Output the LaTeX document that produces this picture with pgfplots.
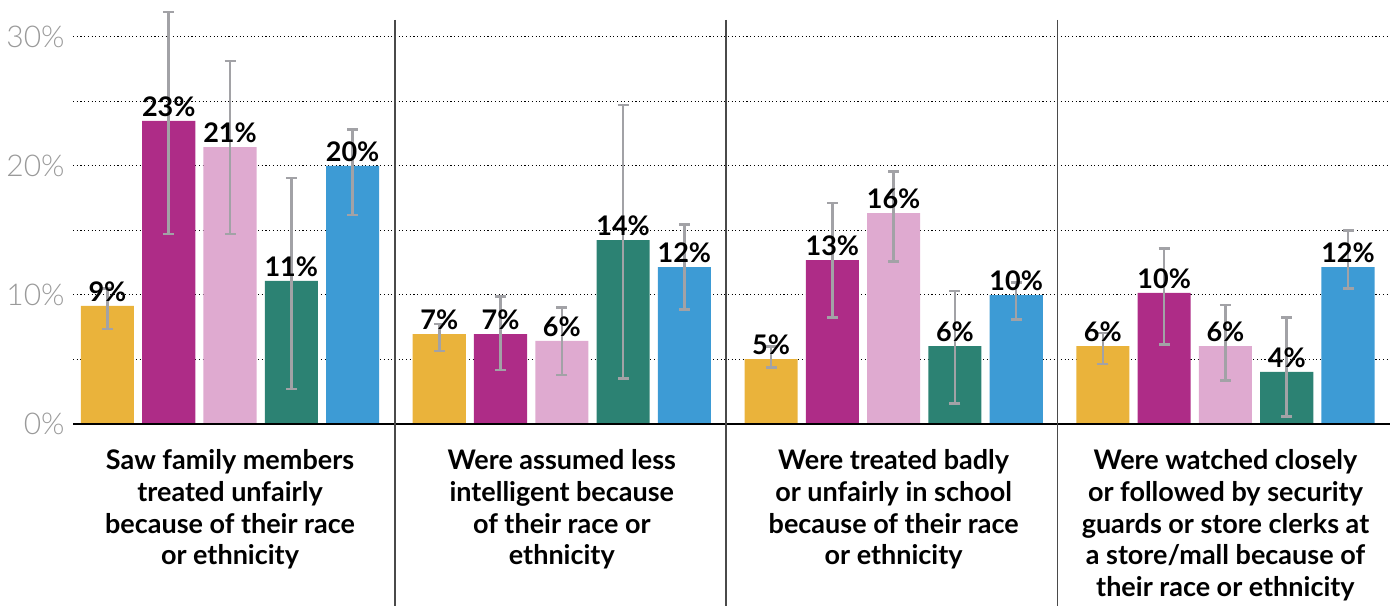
\documentclass[border=0pt]{standalone}
\usepackage{fontspec}
\usepackage{pgfplots}
\usepackage{pgfplotstable}
\pgfplotsset{compat=1.18}
\setmainfont{Lato}
\newfontfamily\lightfont{Lato Light}

\definecolor{cYellow}{HTML}{EAB33B}
\definecolor{cMagenta}{HTML}{AE2C87}
\definecolor{cPink}{HTML}{DFAAD0}
\definecolor{cTeal}{HTML}{2C8273}
\definecolor{cBlue}{HTML}{3D9BD5}
\definecolor{errgray}{HTML}{A2A2A6}
\definecolor{tickgray}{HTML}{9A9A9A}
\definecolor{sepgray}{HTML}{4A4A4A}

% g = question group, v = share, lo/hi = interval ends
\pgfplotstableread{
g v lo hi
0 9.14 7.36 10.5
1 6.97 5.65 7.75
2 5.03 4.36 5.99
3 6.04 4.65 7.05
}\tabYellow
\pgfplotstableread{
g v lo hi
0 23.47 14.7 31.9
1 6.97 4.18 9.86
2 12.70 8.26 17.1
3 10.15 6.17 13.6
}\tabMagenta
\pgfplotstableread{
g v lo hi
0 21.45 14.7 28.1
1 6.43 3.8 9.04
2 16.34 12.57 19.57
3 6.04 3.38 9.2
}\tabPink
\pgfplotstableread{
g v lo hi
0 11.08 2.7 19.05
1 14.25 3.54 24.7
2 6.04 1.6 10.3
3 4.03 0.6 8.26
}\tabTeal
\pgfplotstableread{
g v lo hi
0 20.00 16.2 22.8
1 12.16 8.88 15.47
2 9.99 8.1 10.95
3 12.16 10.5 14.97
}\tabBlue

\pgfplotsset{
  barplot/.style 2 args={ybar, bar width=0.16, bar shift=#2, fill=#1, draw=none},
  valplot/.style={forget plot, draw=none, mark=none,
    nodes near coords={\pgfmathprintnumber[fixed,precision=0]{\pgfplotspointmeta}\%},
    every node near coord/.append style={font=\bfseries\fontsize{13.5}{13.5}\selectfont,
      text=black, inner sep=0pt, anchor=south, yshift=2pt}},
  errplot/.style={forget plot, draw=none, mark=none,
    error bars/.cd, y dir=both, y explicit, error mark=-,
    error bar style={draw=errgray, line width=1.25pt},
    error mark options={rotate=90, draw=errgray, line width=1.25pt, mark size=2.75pt}},
}

\begin{document}
\begin{tikzpicture}
\begin{axis}[
  at={(36.5pt,90.5pt)}, anchor=south west,
  scale only axis, width=658.5pt, height=212pt,
  xmin=-0.4732, xmax=3.496, ymin=0, ymax=32.84,
  clip=false,
  axis line style={draw=none},
  xtick=\empty,
  ytick={0,10,20,30}, minor ytick={5,15,25},
  ymajorgrids, yminorgrids,
  major grid style={black, line width=0.55pt, dash pattern=on 0.55pt off 1.3pt},
  minor grid style={black, line width=0.55pt, dash pattern=on 0.55pt off 1.3pt},
  major tick length=0pt, minor tick length=0pt,
  /pgf/number format/assume math mode=true,
  yticklabel={\pgfmathprintnumber{\tick}\%},
  yticklabel style={font=\lightfont\fontsize{15}{15}\selectfont, text=tickgray,
    anchor=east, inner sep=0pt, xshift=-4pt},
]
% bars
\addplot[barplot={cYellow}{-0.3694}]  table[x=g, y=v] {\tabYellow};
\addplot[barplot={cMagenta}{-0.1847}] table[x=g, y=v] {\tabMagenta};
\addplot[barplot={cPink}{0}]          table[x=g, y=v] {\tabPink};
\addplot[barplot={cTeal}{0.1847}]     table[x=g, y=v] {\tabTeal};
\addplot[barplot={cBlue}{0.3694}]     table[x=g, y=v] {\tabBlue};

% value labels above the bars
\addplot[valplot] table[x expr=\thisrow{g}-0.3694, y=v] {\tabYellow};
\addplot[valplot] table[x expr=\thisrow{g}-0.1847, y=v] {\tabMagenta};
\addplot[valplot] table[x expr=\thisrow{g},        y=v] {\tabPink};
\addplot[valplot] table[x expr=\thisrow{g}+0.1847, y=v] {\tabTeal};
\addplot[valplot] table[x expr=\thisrow{g}+0.3694, y=v] {\tabBlue};

% interval bars
\addplot[errplot] table[x expr=\thisrow{g}-0.3694, y=v,
  y error plus expr=\thisrow{hi}-\thisrow{v}, y error minus expr=\thisrow{v}-\thisrow{lo}] {\tabYellow};
\addplot[errplot] table[x expr=\thisrow{g}-0.1847, y=v,
  y error plus expr=\thisrow{hi}-\thisrow{v}, y error minus expr=\thisrow{v}-\thisrow{lo}] {\tabMagenta};
\addplot[errplot] table[x expr=\thisrow{g}, y=v,
  y error plus expr=\thisrow{hi}-\thisrow{v}, y error minus expr=\thisrow{v}-\thisrow{lo}] {\tabPink};
\addplot[errplot] table[x expr=\thisrow{g}+0.1847, y=v,
  y error plus expr=\thisrow{hi}-\thisrow{v}, y error minus expr=\thisrow{v}-\thisrow{lo}] {\tabTeal};
\addplot[errplot] table[x expr=\thisrow{g}+0.3694, y=v,
  y error plus expr=\thisrow{hi}-\thisrow{v}, y error minus expr=\thisrow{v}-\thisrow{lo}] {\tabBlue};

% baseline and group separators
\draw[black, line width=0.7pt] (axis cs:-0.4732,0) -- (axis cs:3.496,0);
\draw[sepgray, line width=0.6pt] (axis cs:0.497,31.3) -- (axis cs:0.497,-14.5);
\draw[sepgray, line width=0.6pt] (axis cs:1.495,31.3) -- (axis cs:1.495,-14.5);
\draw[sepgray, line width=0.6pt] (axis cs:2.495,31.3) -- (axis cs:2.495,-14.5);

% group labels
\tikzset{grp/.style={anchor=north, align=center, inner sep=0pt, yshift=-12.5pt,
  font=\bfseries\fontsize{13.5}{15.9}\selectfont}}
\node[grp] at (axis cs:0,0) {Saw family members\\treated unfairly\\because of their race\\or ethnicity};
\node[grp] at (axis cs:1,0) {Were assumed less\\intelligent because\\of their race or\\ethnicity};
\node[grp] at (axis cs:2,0) {Were treated badly\\or unfairly in school\\because of their race\\or ethnicity};
\node[grp] at (axis cs:3,0) {Were watched closely\\or followed by security\\guards or store clerks at\\a store/mall because of\\their race or ethnicity};
\end{axis}
\pgfresetboundingbox
\useasboundingbox (0,0) rectangle (695pt,302.5pt);
\end{tikzpicture}
\end{document}
